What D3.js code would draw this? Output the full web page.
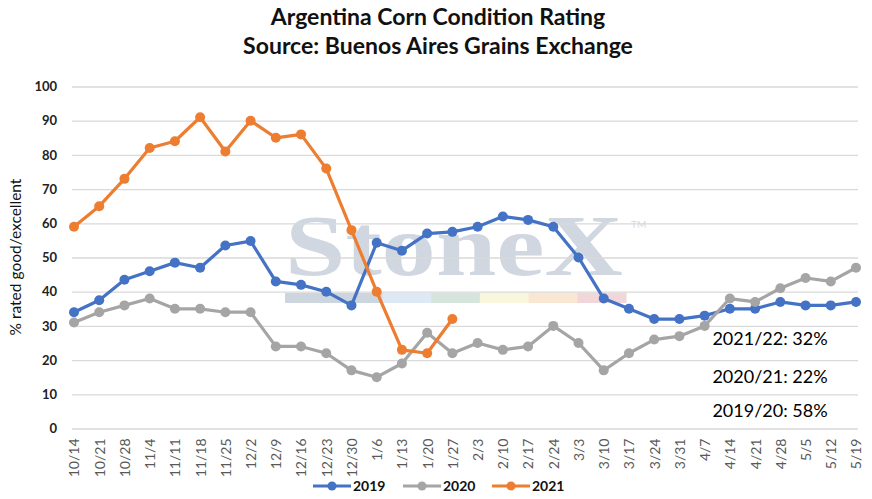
<!DOCTYPE html>
<html>
<head>
<meta charset="utf-8">
<script src="https://cdn.jsdelivr.net/npm/d3@7"></script>
<style>
  body { margin: 0; background: #fff; }
  svg { display: block; font-family: Lato, 'Open Sans', sans-serif; }
</style>
</head>
<body>
<svg id="chart"></svg>
<script>
// week labels (x categories)
const weeks = ['10/14', '10/21', '10/28', '11/4', '11/11', '11/18', '11/25', '12/2', '12/9', '12/16',
  '12/23', '12/30', '1/6', '1/13', '1/20', '1/27', '2/3', '2/10', '2/17', '2/24', '3/3', '3/10',
  '3/17', '3/24', '3/31', '4/7', '4/14', '4/21', '4/28', '5/5', '5/12', '5/19'];

// % rated good/excellent
const values2019 = [34, 37.5, 43.5, 46, 48.5, 47, 53.5, 54.8, 43, 42, 40, 36, 54.3, 52, 57, 57.5,
  59, 62, 61, 59, 50, 38, 35, 32, 32, 33, 35, 35, 37, 36, 36, 37];
const values2020 = [31, 34, 36, 38, 35, 35, 34, 34, 24, 24, 22, 17, 15, 19, 28, 22,
  25, 23, 24, 30, 25, 17, 22, 26, 27, 30, 38, 37, 41, 44, 43, 47];
const values2021 = [59, 65, 73, 82, 84, 91, 81, 90, 85, 86, 76, 58, 40, 23, 22, 32];

const yTicks = [0, 10, 20, 30, 40, 50, 60, 70, 80, 90, 100];

const seriesNames = ['2019', '2020', '2021'];
const seriesColors = ['#4472c4', '#a5a5a5', '#ed7d31'];

const notes = ['2021/22: 32%', '2020/21: 22%', '2019/20: 58%'];

const width = 872;
const height = 499;

const svg = d3.select('#chart')
    .attr('width', width)
    .attr('height', height);

const plot = {left: 72, right: 858, top: 86.5, bottom: 428.5};

const x = d3.scalePoint()
    .domain(weeks)
    .range([74, 856]);

const y = d3.scaleLinear()
    .domain([0, 100])
    .range([plot.bottom, plot.top]);

// titles
svg.append('text')
    .attr('x', 438)
    .attr('y', 25)
    .attr('text-anchor', 'middle')
    .style('font-size', '23px')
    .style('font-weight', 'bold')
    .style('fill', '#111')
    .text('Argentina Corn Condition Rating');

svg.append('text')
    .attr('x', 438)
    .attr('y', 54)
    .attr('text-anchor', 'middle')
    .style('font-size', '23px')
    .style('font-weight', 'bold')
    .style('fill', '#111')
    .text('Source: Buenos Aires Grains Exchange');

// watermark behind the grid
const wm = svg.append('g').attr('class', 'watermark');
wm.append('text')
    .attr('x', 285)
    .attr('y', 275)
    .attr('textLength', 338)
    .attr('lengthAdjust', 'spacingAndGlyphs')
    .style('font-family', "'Liberation Serif', 'DejaVu Serif', serif")
    .style('font-size', '86px')
    .style('font-weight', 'bold')
    .style('fill', '#d0d7e0')
    .text('StoneX');
wm.append('text')
    .attr('x', 631)
    .attr('y', 228)
    .style('font-size', '10px')
    .style('fill', '#d5dbe3')
    .text('TM');

const bandColors = ['#cdd5df', '#cdd5df', '#dde9f4', '#d5e4dc', '#f8f6dd', '#fae7d3', '#f1d7da'];
const band = d3.scaleBand()
    .domain(d3.range(bandColors.length))
    .range([285, 626]);
wm.selectAll('rect')
    .data(bandColors)
    .join('rect')
    .attr('x', (d, i) => band(i))
    .attr('y', 293)
    .attr('width', band.bandwidth() + 0.5)
    .attr('height', 10)
    .style('fill', (d) => d);

// y axis + gridlines
const yAxis = svg.append('g')
    .attr('transform', 'translate(' + plot.left + ',0)')
    .call(d3.axisLeft(y)
        .tickValues(yTicks)
        .tickSize(-(plot.right - plot.left))
        .tickPadding(15));
yAxis.select('.domain').remove();
yAxis.selectAll('line')
    .style('stroke', '#d9d9d9')
    .style('stroke-width', 1.3);
yAxis.selectAll('text')
    .style('font-family', 'Lato, sans-serif')
    .style('font-size', '13px')
    .style('font-weight', 'bold')
    .style('fill', '#222');

// x axis
const xAxis = svg.append('g')
    .attr('transform', 'translate(0,' + plot.bottom + ')')
    .call(d3.axisBottom(x).tickSize(0));
xAxis.select('.domain').remove();
xAxis.selectAll('text')
    .attr('transform', 'rotate(-90)')
    .attr('x', -10)
    .attr('y', 0)
    .attr('dy', '0.35em')
    .attr('text-anchor', 'end')
    .style('font-family', 'Lato, sans-serif')
    .style('font-size', '14px')
    .style('fill', '#595959');

// y axis title
svg.append('text')
    .attr('transform', 'translate(21,257) rotate(-90)')
    .attr('text-anchor', 'middle')
    .style('font-size', '15.5px')
    .style('fill', '#111')
    .text('% rated good/excellent');

// series
const series = [values2019, values2020, values2021].map((vals, i) => ({
  name: seriesNames[i],
  color: seriesColors[i],
  points: vals.map((v, j) => ({week: weeks[j], value: v})),
}));

const line = d3.line()
    .x((d) => x(d.week))
    .y((d) => y(d.value));

const seriesG = svg.selectAll('.series')
    .data(series)
    .join('g')
    .attr('class', 'series');

seriesG.append('path')
    .attr('d', (d) => line(d.points))
    .style('fill', 'none')
    .style('stroke', (d) => d.color)
    .style('stroke-width', 3.2)
    .style('stroke-linejoin', 'round');

seriesG.each(function(s) {
  d3.select(this).selectAll('circle')
      .data(s.points)
      .join('circle')
      .attr('cx', (d) => x(d.week))
      .attr('cy', (d) => y(d.value))
      .attr('r', 5)
      .style('fill', s.color);
});

// annotations
svg.selectAll('.note')
    .data(notes)
    .join('text')
    .attr('class', 'note')
    .attr('x', 770)
    .attr('y', (d, i) => [345, 383, 417][i])
    .attr('text-anchor', 'middle')
    .style('font-size', '18px')
    .style('fill', '#000')
    .text((d) => d);

// legend
const legendX = [313, 403, 492];
const legend = svg.selectAll('.legend')
    .data(series)
    .join('g')
    .attr('class', 'legend')
    .attr('transform', (d, i) => 'translate(' + legendX[i] + ',486)');
legend.append('line')
    .attr('x1', 0)
    .attr('x2', 38)
    .style('stroke', (d) => d.color)
    .style('stroke-width', 3.2);
legend.append('circle')
    .attr('cx', 19)
    .attr('r', 4.5)
    .style('fill', (d) => d.color);
legend.append('text')
    .attr('x', 40)
    .attr('dy', '0.36em')
    .style('font-size', '14px')
    .style('font-weight', 'bold')
    .style('fill', '#111')
    .text((d) => d.name);
</script>
</body>
</html>
